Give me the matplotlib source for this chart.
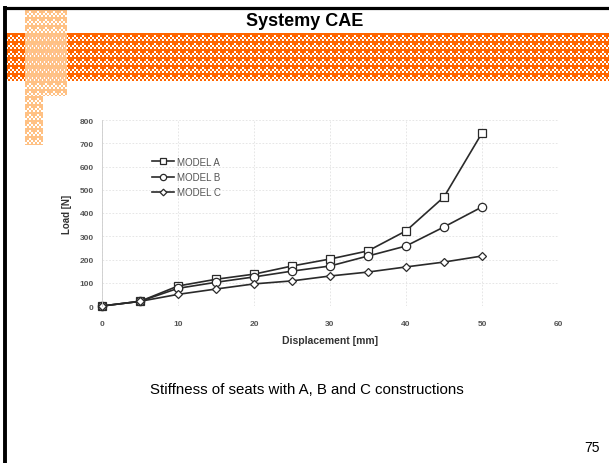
import numpy as np
import matplotlib
matplotlib.use("Agg")
import matplotlib.pyplot as plt

plt.rcParams['font.family'] = ['Liberation Sans', 'DejaVu Sans']

# Seat stiffness test data
displacement = [0, 5, 10, 15, 20, 25, 30, 35, 40, 45, 50]
load_model_a = [0, 20, 86, 115, 137, 172, 202, 237, 323, 469, 744]
load_model_b = [0, 20, 76, 102, 125, 150, 172, 215, 258, 340, 426]
load_model_c = [0, 20, 50, 73, 95, 108, 129, 146, 168, 189, 215]
series_labels = ["MODEL A", "MODEL B", "MODEL C"]
x_ticks = [0, 10, 20, 30, 40, 50, 60]
y_ticks = [0, 100, 200, 300, 400, 500, 600, 700, 800]

title_text = "Systemy CAE"
caption_text = "Stiffness of seats with A, B and C constructions"
page_number = "75"

W, H = 609, 464
fig = plt.figure(figsize=(W / 100, H / 100), dpi=100)

# Slide background layer in pixel coordinates
bg = fig.add_axes([0, 0, 1, 1])
bg.set_xlim(0, W)
bg.set_ylim(H, 0)
bg.axis("off")


def checker(h, w, cell=2, period=8):
    i, j = np.indices((h, w))
    on = ((i // cell + j // cell) % 2) == 0
    on |= (i % period) < 2
    on |= ((j % period) < 2) & ((i % period) < 5)
    return on


orange = np.array([1.0, 0.4, 0.0, 1.0])
white = np.array([1.0, 1.0, 1.0, 1.0])

# Orange header band
bh, bw = 48, W - 6
band = checker(bh, bw)
band_img = np.where(band[..., None], orange, white)
bg.imshow(band_img, extent=(6, W, 82, 34), interpolation="nearest", zorder=1)

# Pale vertical strip
pale = np.array([1.0, 0.76, 0.52, 1.0])
wash = np.array([1.0, 1.0, 1.0, 0.6])
sh, sw = 87, 42
strip = checker(sh, sw, cell=2, period=8)
strip_img = np.where(strip[..., None], pale, wash)
bg.imshow(strip_img, extent=(25, 67, 97, 10), interpolation="nearest", zorder=2)
sh2, sw2 = 49, 18
strip2 = checker(sh2, sw2, cell=2, period=8)
strip2_img = np.where(strip2[..., None], pale, white)
bg.imshow(strip2_img, extent=(25, 43, 146, 97), interpolation="nearest", zorder=2)

# Slide frame
bg.plot([3, W], [8.5, 8.5], color="black", lw=2.3, solid_capstyle="butt", zorder=3)
bg.plot([4.5, 4.5], [7, H], color="black", lw=2.8, solid_capstyle="butt", zorder=3)

bg.text(305, 22, title_text, ha="center", va="center", fontsize=13,
        fontweight="bold", color="black", zorder=4)
bg.text(307, 390, caption_text, ha="center", va="center", fontsize=10.8, color="black")
bg.text(592, 448, page_number, ha="center", va="center", fontsize=10, color="black")
bg.set_aspect("auto")

# Load-displacement chart
ax = fig.add_axes([102 / W, 1 - 307 / H, 456 / W, (307 - 121) / H])
ax.set_xlim(0, 60)
ax.set_ylim(0, 800)
ax.set_xticks(x_ticks)
ax.set_yticks(y_ticks)
ax.grid(True, color="#e2e2e2", lw=0.6, ls=(0, (2, 2)))
ax.set_axisbelow(True)
for s in ax.spines.values():
    s.set_visible(False)
ax.spines["left"].set_visible(True)
ax.spines["left"].set_color("#cccccc")
ax.spines["left"].set_linewidth(0.6)
ax.tick_params(length=0, labelsize=6, labelcolor="#555555")
ax.tick_params(axis="x", pad=10)
ax.tick_params(axis="y", pad=6)
for lab in ax.get_xticklabels() + ax.get_yticklabels():
    lab.set_fontweight("bold")

style = dict(color="#2a2a2a", lw=1.2, markerfacecolor="white",
             markeredgecolor="#2a2a2a", markeredgewidth=0.9, clip_on=False)
ax.plot(displacement, load_model_a, marker="s", ms=5.5, label=series_labels[0], **style)
ax.plot(displacement, load_model_b, marker="o", ms=6, label=series_labels[1], **style)
ax.plot(displacement, load_model_c, marker="D", ms=4.5, label=series_labels[2], **style)

ax.set_xlabel("Displacement [mm]", fontsize=7.5, fontweight="bold", color="#333333", labelpad=6)
ax.set_ylabel("Load [N]", fontsize=7, fontweight="bold", color="#333333", labelpad=5)

leg = ax.legend(loc="upper left", bbox_to_anchor=(0.095, 0.84), frameon=False,
                fontsize=7, handlelength=2.2, labelspacing=0.55, handletextpad=0.4,
                markerscale=0.75, borderpad=0.2)
for t in leg.get_texts():
    t.set_color("#555555")

fig.savefig("out.png", dpi=100)
